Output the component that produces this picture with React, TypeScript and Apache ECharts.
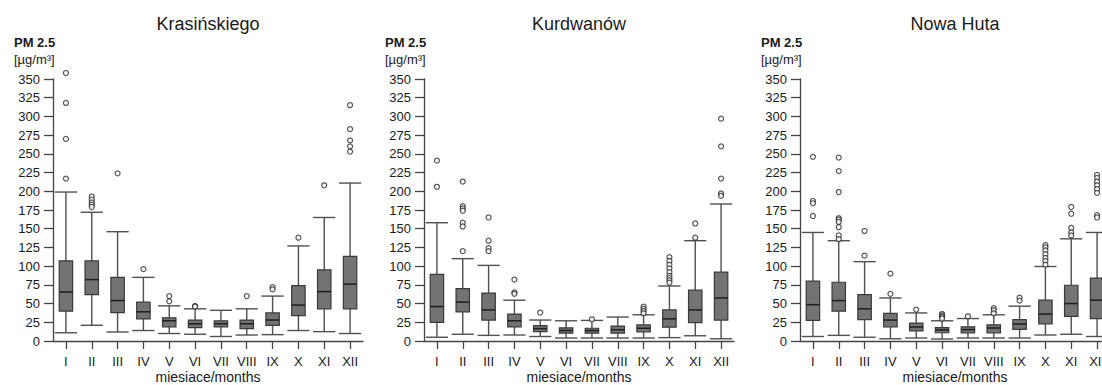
import React, { useEffect, useRef } from "react";
import * as echarts from "echarts";

const months = ["I", "II", "III", "IV", "V", "VI", "VII", "VIII", "IX", "X", "XI", "XII"];
const stations = ["Krasińskiego", "Kurdwanów", "Nowa Huta"];
const yTitle = "PM 2.5";
const yUnit = "[µg/m³]";
const xTitle = "miesiace/months";

// Krasińskiego
const krasLow = [11, 21, 12, 14, 10, 9, 6, 8, 8.5, 14, 12.5, 10];
const krasQ1 = [40, 62, 38, 29.5, 19, 18, 19, 16.5, 21, 34, 43, 43];
const krasMed = [65.5, 82, 54, 39, 27, 23, 23, 23, 28, 48, 66, 76];
const krasQ3 = [107, 107, 85, 52, 31, 28, 27, 28, 37.5, 74, 95, 113];
const krasHigh = [199, 172, 146, 85, 47, 43, 41, 43, 60, 127, 165, 211];
const krasOut = [
  [358, 318, 270, 217], [193, 189, 185, 182, 179], [224], [96], [60, 53], [47, 46],
  [], [60], [72, 69], [138], [208], [315, 283, 268, 260, 253],
];

// Kurdwanów
const kurdLow = [5, 9, 7.5, 8, 6, 4, 4, 4, 4, 4.5, 7, 3];
const kurdQ1 = [25, 39, 28, 19, 12.5, 10.5, 10.5, 10.5, 12, 18.5, 24.5, 28];
const kurdMed = [46, 52, 41.5, 27, 16.5, 14, 14, 15, 17, 29.5, 41.5, 57.5];
const kurdQ3 = [89, 70, 64, 36, 20.5, 17.5, 17, 20, 21.5, 41.5, 68, 92];
const kurdHigh = [158, 110, 101, 54.5, 28, 27, 27.5, 32, 35, 73.5, 134, 183];
const kurdOut = [
  [241, 206], [213, 180, 177, 174, 158, 153, 120], [165, 134, 124, 120], [82, 65, 63], [38], [],
  [29], [], [46, 43, 40, 37], [112, 107, 102, 97, 92, 87, 84, 81, 78], [157, 138], [297, 260, 217, 197, 194],
];

// Nowa Huta
const nowaLow = [6, 7.5, 5, 3, 4, 2.7, 4, 4, 4, 8, 9, 6];
const nowaQ1 = [27.5, 40, 28.5, 19, 13.5, 11, 10.7, 10.7, 15.5, 23, 33, 30];
const nowaMed = [48.5, 54, 43, 28, 18.7, 14.7, 15.2, 17.4, 22.7, 36, 50, 54.5];
const nowaQ3 = [80, 78.5, 62, 37, 24, 18, 19, 21.5, 28.5, 54.5, 74.5, 84];
const nowaHigh = [145, 134, 106, 57.5, 37.5, 27, 30, 35, 46.5, 99.5, 136.5, 145];
const nowaOut = [
  [246, 187, 184, 167], [245, 227, 199, 164, 162, 159, 152, 141, 136], [147, 114], [90, 63], [42], [36, 34, 32, 30],
  [33], [44, 41, 37], [58, 54], [128, 125, 121, 116, 111, 107, 102], [179, 170, 151, 145, 141],
  [222, 218, 213, 208, 203, 198, 168, 165],
];

const yMin = 0;
const yMax = 350;
const yInterval = 25;

const FONT = "'Liberation Sans', Arial, Helvetica, sans-serif";
const TEXT = "#1a1a1a";

const panels = [
  { low: krasLow, q1: krasQ1, med: krasMed, q3: krasQ3, high: krasHigh, out: krasOut, left: 53 },
  { low: kurdLow, q1: kurdQ1, med: kurdMed, q3: kurdQ3, high: kurdHigh, out: kurdOut, left: 424 },
  { low: nowaLow, q1: nowaQ1, med: nowaMed, q3: nowaQ3, high: nowaHigh, out: nowaOut, left: 800 },
];
const GRID_W = 310;
const GRID_TOP = 79;
const GRID_H = 262;

function renderBox(params: any, api: any) {
  const x = api.value(0);
  const pLow = api.coord([x, api.value(1)]);
  const pQ1 = api.coord([x, api.value(2)]);
  const pMed = api.coord([x, api.value(3)]);
  const pQ3 = api.coord([x, api.value(4)]);
  const pHigh = api.coord([x, api.value(5)]);
  const band = api.size([1, 0])[0];
  const cx = pLow[0];
  const bw = band * 0.52;
  const cw = band * 0.86;
  const lineStyle = { stroke: "#505050", lineWidth: 1.4 };
  return {
    type: "group",
    children: [
      { type: "line", shape: { x1: cx, y1: pLow[1], x2: cx, y2: pQ1[1] }, style: lineStyle },
      { type: "line", shape: { x1: cx, y1: pQ3[1], x2: cx, y2: pHigh[1] }, style: lineStyle },
      { type: "line", shape: { x1: cx - cw / 2, y1: pLow[1], x2: cx + cw / 2, y2: pLow[1] }, style: lineStyle },
      { type: "line", shape: { x1: cx - cw / 2, y1: pHigh[1], x2: cx + cw / 2, y2: pHigh[1] }, style: lineStyle },
      {
        type: "rect",
        shape: { x: cx - bw / 2, y: pQ3[1], width: bw, height: pQ1[1] - pQ3[1] },
        style: { fill: "#737373", stroke: "#3a3a3a", lineWidth: 1.2 },
      },
      { type: "line", shape: { x1: cx - bw / 2, y1: pMed[1], x2: cx + bw / 2, y2: pMed[1] }, style: { stroke: "#1e1e1e", lineWidth: 1.5 } },
    ],
  };
}

export default function App() {
  const ref = useRef<HTMLDivElement>(null);
  useEffect(() => {
    if (!ref.current) return;
    const chart = echarts.init(ref.current, null, { renderer: "svg" });
    const grid: any[] = [];
    const xAxis: any[] = [];
    const yAxis: any[] = [];
    const series: any[] = [];
    const graphic: any[] = [];
    panels.forEach((p, i) => {
      grid.push({ left: p.left, top: GRID_TOP, width: GRID_W, height: GRID_H, containLabel: false });
      xAxis.push({
        type: "category",
        gridIndex: i,
        data: months,
        axisLine: { show: true, lineStyle: { color: "#444", width: 1.3 } },
        axisTick: { show: true, alignWithLabel: true, length: 8, lineStyle: { color: "#444", width: 1.3 } },
        axisLabel: { color: TEXT, fontSize: 13, fontFamily: FONT, margin: 14, interval: 0 },
        splitLine: { show: false },
      });
      yAxis.push({
        type: "value",
        gridIndex: i,
        min: yMin,
        max: yMax,
        interval: yInterval,
        axisLine: { show: true, lineStyle: { color: "#444", width: 1.3 } },
        axisTick: { show: true, length: 9, lineStyle: { color: "#444", width: 1.3 } },
        axisLabel: { color: TEXT, fontSize: 13, fontFamily: FONT, margin: 13 },
        splitLine: { show: false },
      });
      series.push({
        type: "custom",
        xAxisIndex: i,
        yAxisIndex: i,
        renderItem: renderBox,
        encode: { x: 0, y: [1, 2, 3, 4, 5] },
        data: months.map((_, m) => [m, p.low[m], p.q1[m], p.med[m], p.q3[m], p.high[m]]),
        clip: false,
        z: 2,
      });
      const outData: number[][] = [];
      p.out.forEach((arr, m) => arr.forEach((v) => outData.push([m, v])));
      series.push({
        type: "scatter",
        xAxisIndex: i,
        yAxisIndex: i,
        data: outData,
        symbol: "circle",
        symbolSize: 5,
        clip: false,
        itemStyle: { color: "#ffffff", borderColor: "#2a2a2a", borderWidth: 1.2 },
        z: 3,
      });
      const cx = p.left + GRID_W / 2;
      graphic.push({
        type: "text",
        x: cx,
        y: 24,
        style: { text: stations[i], align: "center", verticalAlign: "middle", fontSize: 18, fontFamily: FONT, fill: TEXT },
      });
      graphic.push({
        type: "text",
        x: p.left - 39,
        y: 42,
        style: { text: yTitle, align: "left", verticalAlign: "middle", fontSize: 13, fontWeight: "bold", fontFamily: FONT, fill: TEXT },
      });
      graphic.push({
        type: "text",
        x: p.left - 39,
        y: 59,
        style: { text: yUnit, align: "left", verticalAlign: "middle", fontSize: 13, fontFamily: FONT, fill: TEXT },
      });
      graphic.push({
        type: "text",
        x: cx,
        y: 377,
        style: { text: xTitle, align: "center", verticalAlign: "middle", fontSize: 14, fontFamily: FONT, fill: TEXT },
      });
    });
    chart.setOption({
      animation: false,
      backgroundColor: "#ffffff",
      grid,
      xAxis,
      yAxis,
      series,
      graphic,
    });
    return () => chart.dispose();
  }, []);
  return (
    <div
      ref={ref}
      style={{ position: "fixed", left: 0, top: 0, width: 1125, height: 385 }}
    />
  );
}
